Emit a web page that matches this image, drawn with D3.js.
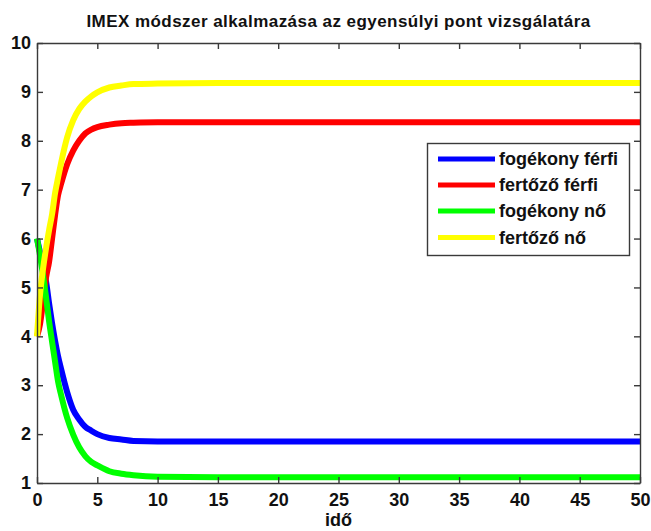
<!DOCTYPE html>
<html>
<head>
<meta charset="utf-8">
<script src="https://cdn.jsdelivr.net/npm/d3@7/dist/d3.min.js"></script>
<style>
  html, body { margin: 0; padding: 0; background: #fff; }
  svg { display: block; }
  text { font-family: "Liberation Sans", Arial, sans-serif; font-weight: bold; fill: #111; }
</style>
</head>
<body>
<svg id="chart" width="651" height="531"></svg>
<script>
// Time samples of the IMEX solution
const time = [0, 0.25, 0.5, 0.75, 1, 1.25, 1.5, 1.75, 2, 2.5, 3, 3.5, 4, 4.5, 5, 6, 7, 8, 10, 15, 20, 25, 30, 35, 40, 45, 50];

// State variables over time
const fogekonyFerfi = [6.0, 5.72, 5.42, 5.12, 4.68, 4.27, 3.91, 3.59, 3.33, 2.86, 2.50, 2.30, 2.15, 2.07, 2.00, 1.92, 1.89, 1.86, 1.85, 1.85, 1.85, 1.85, 1.85, 1.85, 1.85, 1.85, 1.85];
const fertozoFerfi = [4.0, 4.25, 4.70, 5.20, 5.52, 6.00, 6.48, 6.89, 7.12, 7.52, 7.80, 8.00, 8.15, 8.23, 8.28, 8.33, 8.36, 8.37, 8.38, 8.38, 8.38, 8.38, 8.38, 8.38, 8.38, 8.38, 8.38];
const fogekonyNo = [6.0, 5.65, 5.25, 4.80, 4.31, 3.89, 3.48, 3.07, 2.80, 2.33, 1.99, 1.73, 1.55, 1.43, 1.36, 1.24, 1.19, 1.16, 1.13, 1.12, 1.12, 1.12, 1.12, 1.12, 1.12, 1.12, 1.12];
const fertozoNo = [4.0, 4.85, 5.38, 5.80, 6.17, 6.50, 6.93, 7.25, 7.55, 8.07, 8.42, 8.65, 8.80, 8.91, 8.99, 9.09, 9.13, 9.16, 9.17, 9.18, 9.18, 9.18, 9.18, 9.18, 9.18, 9.18, 9.18];

const seriesNames = ["fogékony férfi", "fertőző férfi", "fogékony nő", "fertőző nő"];
const seriesColors = ["#0000ff", "#ff0000", "#00ff00", "#ffff00"];
const seriesValues = [fogekonyFerfi, fertozoFerfi, fogekonyNo, fertozoNo];

const xTicks = [0, 5, 10, 15, 20, 25, 30, 35, 40, 45, 50];
const yTicks = [1, 2, 3, 4, 5, 6, 7, 8, 9, 10];

const titleText = "IMEX módszer alkalmazása az egyensúlyi pont vizsgálatára";
const xLabelText = "idő";

const svg = d3.select("#chart");
const plotLeft = 37, plotRight = 640, plotTop = 43, plotBottom = 483;

const x = d3.scaleLinear().domain([0, 50]).range([plotLeft, plotRight]);
const y = d3.scaleLinear().domain([1, 10]).range([plotBottom, plotTop]);

const axisColor = "#3a3a3a";

// data lines
const line = d3.line()
  .x((d, i) => x(time[i]))
  .y(d => y(d))
  .curve(d3.curveMonotoneX);

const plot = svg.append("g");
seriesValues.forEach((vals, k) => {
  plot.append("path")
    .datum(vals)
    .attr("d", line)
    .attr("fill", "none")
    .attr("stroke", seriesColors[k])
    .attr("stroke-width", 6)
    .attr("stroke-linejoin", "round");
});

// axes with inward ticks on all four sides
function styleAxis(g) {
  g.selectAll(".domain").attr("stroke", axisColor).attr("stroke-width", 1.4);
  g.selectAll(".tick line").attr("stroke", axisColor).attr("stroke-width", 1.4);
  g.selectAll("text").attr("font-size", 18).attr("font-family", null).attr("fill", "#111");
}

const xAxis = svg.append("g")
  .attr("transform", `translate(0,${plotBottom})`)
  .call(d3.axisBottom(x).tickValues(xTicks).tickSize(-6).tickSizeOuter(0).tickPadding(10).tickFormat(d3.format("d")));
styleAxis(xAxis);
xAxis.selectAll("text").attr("dy", "0.71em");

const xAxisTop = svg.append("g")
  .attr("transform", `translate(0,${plotTop})`)
  .call(d3.axisTop(x).tickValues(xTicks).tickSize(-6).tickSizeOuter(0).tickFormat(""));
styleAxis(xAxisTop);

const yAxis = svg.append("g")
  .attr("transform", `translate(${plotLeft},0)`)
  .call(d3.axisLeft(y).tickValues(yTicks).tickSize(-6).tickSizeOuter(0).tickPadding(6).tickFormat(d3.format("d")));
styleAxis(yAxis);

const yAxisRight = svg.append("g")
  .attr("transform", `translate(${plotRight},0)`)
  .call(d3.axisRight(y).tickValues(yTicks).tickSize(-6).tickSizeOuter(0).tickFormat(""));
styleAxis(yAxisRight);

// title and axis label
svg.append("text")
  .attr("x", (plotLeft + plotRight) / 2)
  .attr("y", 27)
  .attr("text-anchor", "middle")
  .attr("font-size", 17)
  .attr("letter-spacing", 0.45)
  .text(titleText);

svg.append("text")
  .attr("x", (plotLeft + plotRight) / 2)
  .attr("y", 526)
  .attr("text-anchor", "middle")
  .attr("font-size", 18)
  .text(xLabelText);

// legend
const legend = svg.append("g");
legend.append("rect")
  .attr("x", 427.5).attr("y", 143.5)
  .attr("width", 202).attr("height", 112)
  .attr("fill", "#fff")
  .attr("stroke", axisColor)
  .attr("stroke-width", 1.4);

const legendRowY = [159, 185, 211, 237.5];
seriesNames.forEach((name, k) => {
  legend.append("line")
    .attr("x1", 438).attr("x2", 495)
    .attr("y1", legendRowY[k]).attr("y2", legendRowY[k])
    .attr("stroke", seriesColors[k])
    .attr("stroke-width", 5);
  legend.append("text")
    .attr("x", 499)
    .attr("y", legendRowY[k])
    .attr("dy", "0.35em")
    .attr("font-size", 18)
    .text(name);
});
</script>
</body>
</html>
